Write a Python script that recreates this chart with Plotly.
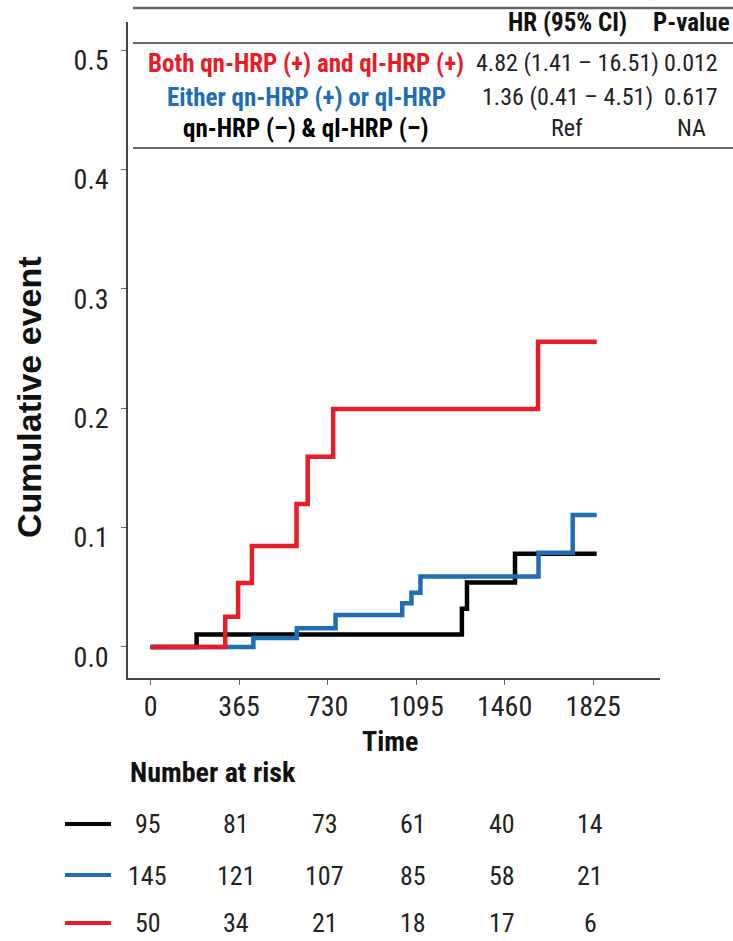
import plotly.graph_objects as go

# ---------------- data ----------------
black_t = [0, 190, 1284, 1305, 1503, 1840]
black_y = [0, 0.0105, 0.032, 0.054, 0.078, 0.078]

blue_t = [0, 424, 603, 763, 1038, 1076, 1113, 1600, 1741, 1840]
blue_y = [0, 0.0075, 0.0157, 0.0267, 0.0366, 0.0455, 0.059, 0.079, 0.1105, 0.1105]

red_t = [0, 308, 361, 418, 602, 648, 753, 1598, 1840]
red_y = [0, 0.0254, 0.0536, 0.0846, 0.1198, 0.1594, 0.1993, 0.2557, 0.2557]

x_ticks = [0, 365, 730, 1095, 1460, 1825]
y_ticks = [0.0, 0.1, 0.2, 0.3, 0.4, 0.5]

groups = ["Both qn-HRP (+) and ql-HRP (+)", "Either qn-HRP (+) or ql-HRP", "qn-HRP (\u2013) & ql-HRP (\u2013)"]
hr_text = ["4.82 (1.41 \u2013 16.51)", "1.36 (0.41 \u2013 4.51)", "Ref"]
p_text = ["0.012", "0.617", "NA"]

risk_times = [0, 365, 730, 1095, 1460, 1825]
risk_black = [95, 81, 73, 61, 40, 14]
risk_blue = [145, 121, 107, 85, 58, 21]
risk_red = [50, 34, 21, 18, 17, 6]

# ---------------- style ----------------
W, H = 733, 941
L, R, T, B = 128, 73, 22, 263
PW, PH = W - L - R, H - T - B
RED = "#E81C26"
BLUE = "#1F6EB4"
BLACK = "#000000"
NARROW = "Liberation Sans Narrow, Arial Narrow, Roboto Condensed, sans-serif"
SANS = "Liberation Sans, Arial, sans-serif"


def px(xp):
    return (xp - L) / PW


def py(yp):
    return (H - B - yp) / PH


fig = go.Figure()
for t, y, c in [(black_t, black_y, BLACK), (blue_t, blue_y, BLUE), (red_t, red_y, RED)]:
    fig.add_trace(go.Scatter(x=t, y=y, mode="lines", line=dict(color=c, width=4.5, shape="hv"),
                             showlegend=False, hoverinfo="skip"))

ann = []
# table
rows_y = [63, 97, 128]
cols = [RED, BLUE, BLACK]
ann.append(dict(x=px(567), y=py(23), text="<b>HR (95% CI)</b>", font=dict(family=NARROW, size=25, color="#111")))
ann.append(dict(x=px(691), y=py(23), text="<b>P-value</b>", font=dict(family=NARROW, size=25, color="#111")))
for i in range(3):
    ann.append(dict(x=px(306), y=py(rows_y[i]), text="<b>%s</b>" % groups[i],
                    font=dict(family=NARROW, size=25, color=cols[i])))
    ann.append(dict(x=px(567), y=py(rows_y[i]), text=hr_text[i], font=dict(family=NARROW, size=24, color="#222")))
    ann.append(dict(x=px(691), y=py(rows_y[i]), text=p_text[i], font=dict(family=NARROW, size=24, color="#222")))

# axis titles
ann.append(dict(x=px(390), y=py(741), text="<b>Time</b>", font=dict(family=NARROW, size=28, color="#111")))
ann.append(dict(x=px(29), y=py(397), text="<b>Cumulative event</b>", textangle=-90,
                font=dict(family=SANS, size=34, color="#111")))

# number at risk
ann.append(dict(x=px(128), y=py(772), text="<b>Number at risk</b>", xanchor="left",
                font=dict(family=NARROW, size=28, color="#111")))
for vals, yp in [(risk_black, 824), (risk_blue, 876), (risk_red, 923)]:
    for t, v in zip(risk_times, vals):
        ann.append(dict(x=t, xref="x", y=py(yp), text=str(v), xshift=-3,
                        font=dict(family=NARROW, size=26, color="#222")))

for a in ann:
    a.setdefault("xref", "paper")
    a.setdefault("yref", "paper")
    a.setdefault("xanchor", "center")
    a.setdefault("yanchor", "middle")
    a["showarrow"] = False
fig.update_layout(annotations=ann)

shapes = []
for yp, w in [(8, 2.5), (43, 2), (148, 2)]:
    shapes.append(dict(type="line", xref="paper", yref="paper", x0=px(133), x1=px(733), y0=py(yp), y1=py(yp),
                       line=dict(color="#666", width=w)))
for yp, c in [(824, BLACK), (875, BLUE), (923, RED)]:
    shapes.append(dict(type="line", xref="paper", yref="paper", x0=px(65), x1=px(111), y0=py(yp), y1=py(yp),
                       line=dict(color=c, width=4)))
fig.update_layout(shapes=shapes)

fig.update_layout(
    width=W, height=H, autosize=False,
    margin=dict(l=L, r=R, t=T, b=B, pad=0),
    paper_bgcolor="white", plot_bgcolor="white",
    xaxis=dict(range=[-93, 2101], tickvals=x_ticks, ticktext=[str(v) for v in x_ticks],
               showgrid=False, zeroline=False, showline=True, linecolor="#444", linewidth=1.5,
               ticks="outside", ticklen=5, tickcolor="#666", tickwidth=1.2,
               tickfont=dict(family=NARROW, size=28, color="#222"), ticklabelstandoff=-2),
    yaxis=dict(range=[-0.026, 0.5235], tickvals=y_ticks, ticktext=["%.1f" % v for v in y_ticks],
               showgrid=False, zeroline=False, showline=True, linecolor="#444", linewidth=1.5,
               ticks="outside", ticklen=5, tickcolor="#666", tickwidth=1.2,
               tickfont=dict(family=NARROW, size=28, color="#222"), ticklabelstandoff=7,
               ticklabelshift=10),
)

fig.write_html("out.html")
